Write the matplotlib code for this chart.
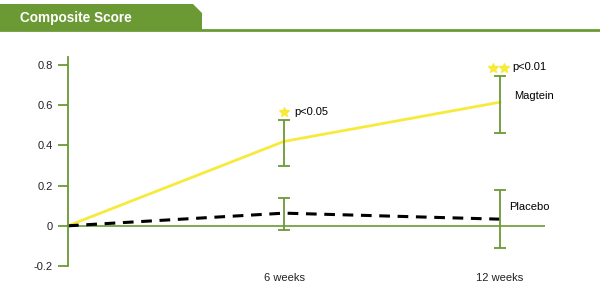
import matplotlib.pyplot as plt
from matplotlib.patches import Polygon
from matplotlib.lines import Line2D

plt.rcParams['font.family'] = ['Liberation Sans', 'DejaVu Sans']

weeks = [0, 6, 12]
week_labels = ['6 weeks', '12 weeks']
magtein = [0, 0.42, 0.615]
magtein_low = [0, 0.30, 0.464]
magtein_high = [0, 0.527, 0.746]
placebo = [0, 0.063, 0.033]
placebo_low = [0, -0.02, -0.109]
placebo_high = [0, 0.139, 0.176]
yticks = [-0.2, 0, 0.2, 0.4, 0.6, 0.8]
ytick_labels = ['-0.2', '0', '0.2', '0.4', '0.6', '0.8']
p_labels = ['p<0.05', 'p<0.01']

green = '#6b9a35'
yellow = '#f7ea3a'

fig = plt.figure(figsize=(6, 2.88), dpi=100)

# title banner
banner = Polygon([(0, 1 - 4/288), (193/600, 1 - 4/288), (202/600, 1 - 13/288),
                  (202/600, 1 - 30/288), (0, 1 - 30/288)],
                 closed=True, transform=fig.transFigure, color=green, lw=0)
fig.patches.append(banner)
fig.add_artist(Line2D([0, 1], [1 - 30/288, 1 - 30/288], transform=fig.transFigure,
                      color=green, lw=2))
fig.text(20/600, 1 - 18/288, 'Composite Score', color='white', fontsize=9.8,
         fontweight='bold', va='center', ha='left')

ax = fig.add_axes([68/600, 22/288, (545 - 68)/600, (266 - 57)/288])
ax.set_xlim(0, 13.25)
ax.set_ylim(-0.2, 0.84)

ax.axhline(0, color=green, lw=1.2, zorder=1)
ax.plot(weeks, magtein, color=yellow, lw=2, zorder=2)
ax.plot(weeks, placebo, color='black', lw=2.2, ls=(0, (3.5, 2.5)), zorder=2)

for vals, lo, hi in [(magtein, magtein_low, magtein_high), (placebo, placebo_low, placebo_high)]:
    ax.errorbar(weeks[1:], vals[1:],
                yerr=[[v - l for v, l in zip(vals[1:], lo[1:])],
                      [h - v for v, h in zip(vals[1:], hi[1:])]],
                fmt='none', ecolor=green, elinewidth=1.3, capsize=4.5, capthick=1.3, zorder=3)

# significance markers
ax.plot([weeks[1]], [magtein_high[1] + 0.04], marker='*', color=yellow, ms=7.5, ls='none')
ax.text(weeks[1] + 0.28, magtein_high[1] + 0.04, p_labels[0], fontsize=8, va='center')
ax.plot([weeks[2] - 0.2, weeks[2] + 0.12], [magtein_high[2] + 0.04] * 2, marker='*',
        color=yellow, ms=7.5, ls='none')
ax.text(weeks[2] + 0.35, magtein_high[2] + 0.045, p_labels[1], fontsize=8, va='center')

ax.text(weeks[2] + 0.4, magtein[2] + 0.03, 'Magtein', fontsize=8, va='center')
ax.text(weeks[2] + 0.25, placebo[2] + 0.06, 'Placebo', fontsize=8, va='center')

ax.set_yticks(yticks)
ax.set_yticklabels(ytick_labels)
ax.set_xticks(weeks[1:])
ax.set_xticklabels(week_labels)
ax.tick_params(axis='y', colors=green, labelcolor='#222222', length=7, width=1.3,
               pad=4, labelsize=8)
ax.tick_params(axis='x', length=0, pad=5, labelsize=8, labelcolor='#222222')

for s in ['top', 'right', 'bottom']:
    ax.spines[s].set_visible(False)
ax.spines['left'].set_color(green)
ax.spines['left'].set_linewidth(1.3)

fig.savefig('out.png', dpi=100)
